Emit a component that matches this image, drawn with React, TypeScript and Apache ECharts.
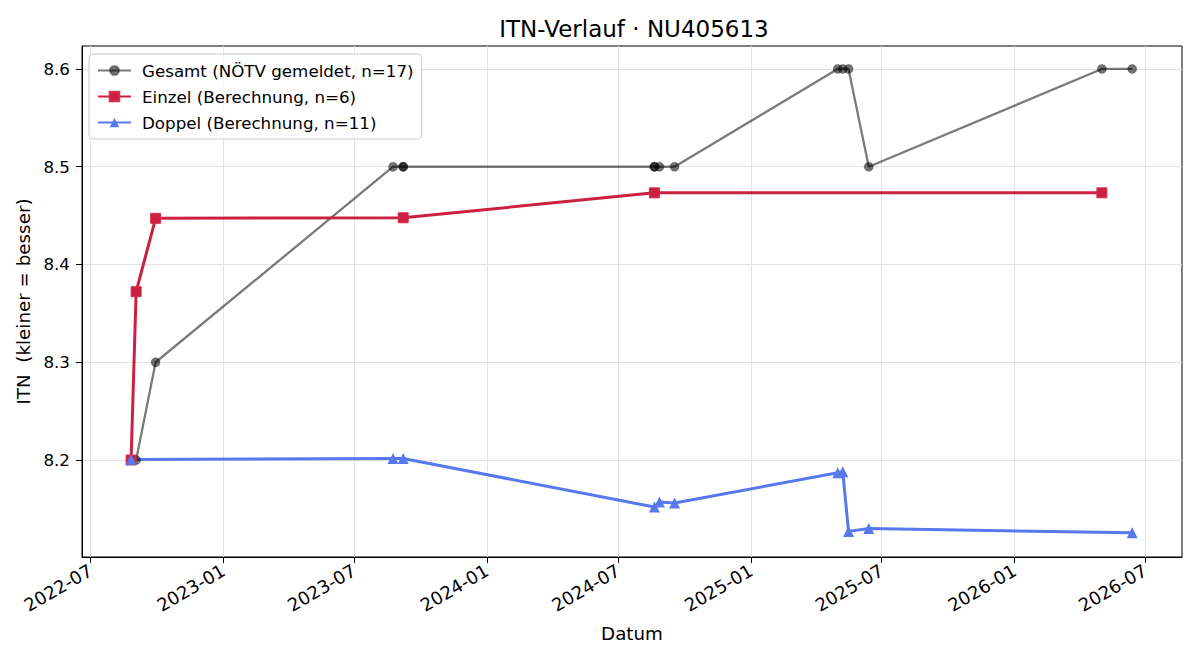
import React, { useEffect, useRef } from 'react';
import * as echarts from 'echarts';

// Overall ITN as reported by the federation
const gesamtDates = [
  '2022-08-26', '2022-08-26', '2022-09-02', '2022-09-29', '2023-08-24', '2023-09-07',
  '2023-09-07', '2024-08-20', '2024-08-20', '2024-08-27', '2024-09-17', '2025-05-01',
  '2025-05-08', '2025-05-16', '2025-06-13', '2026-05-02', '2026-06-13',
];
const gesamtValues = [
  8.2, 8.2, 8.2, 8.3, 8.5, 8.5,
  8.5, 8.5, 8.5, 8.5, 8.5, 8.6,
  8.6, 8.6, 8.5, 8.6, 8.6,
];

// Singles ITN (calculated)
const einzelDates = ['2022-08-26', '2022-09-02', '2022-09-29', '2023-09-07', '2024-08-20', '2026-05-02'];
const einzelValues = [8.2, 8.3722, 8.4472, 8.4478, 8.4733, 8.4733];

// Doubles ITN (calculated)
const doppelDates = [
  '2022-08-26', '2023-08-24', '2023-09-07', '2024-08-20', '2024-08-27', '2024-09-17',
  '2025-05-01', '2025-05-08', '2025-05-16', '2025-06-13', '2026-06-13',
];
const doppelValues = [8.2005, 8.2015, 8.2015, 8.152, 8.157, 8.156, 8.187, 8.188, 8.127, 8.13, 8.1255];

const xTickDates = [
  '2022-07-01', '2023-01-01', '2023-07-01', '2024-01-01', '2024-07-01',
  '2025-01-01', '2025-07-01', '2026-01-01', '2026-07-01',
];
const yTickValues = [8.2, 8.3, 8.4, 8.5, 8.6];

const xMinDate = '2022-06-19';
const xMaxDate = '2026-08-21';
const yMin = 8.1008;
const yMax = 8.6235;

const FONT = 'DejaVu Sans';

function toTime(s: string): number {
  const [y, m, d] = s.split('-').map(Number);
  return Date.UTC(y, m - 1, d);
}

function pairs(dates: string[], values: number[]) {
  return dates.map((d, i) => [toTime(d), values[i]]);
}

function pad2(n: number) {
  return n < 10 ? '0' + n : String(n);
}

export default function App() {
  const ref = useRef<HTMLDivElement>(null);

  useEffect(() => {
    if (!ref.current) return;
    const chart = echarts.init(ref.current, undefined, { renderer: 'svg' });
    const xTicks = xTickDates.map(toTime);

    const option: any = {
      animation: false,
      backgroundColor: '#ffffff',
      title: {
        text: 'ITN-Verlauf · NU405613',
        left: 629,
        top: 12,
        textAlign: 'center',
        textStyle: { fontFamily: FONT, fontSize: 23, fontWeight: 'normal', color: '#000' },
      },
      legend: {
        orient: 'vertical',
        left: 89,
        top: 54,
        padding: [8, 8, 8, 8],
        itemGap: 9,
        itemWidth: 33,
        itemHeight: 12,
        backgroundColor: 'rgba(255,255,255,0.8)',
        borderColor: '#cccccc',
        borderWidth: 1,
        borderRadius: 4,
        textStyle: { fontFamily: FONT, fontSize: 16.7, color: '#000', padding: [0, 0, 0, 6] },
        data: [
          'Gesamt (NÖTV gemeldet, n=17)',
          'Einzel (Berechnung, n=6)',
          'Doppel (Berechnung, n=11)',
        ],
      },
      grid: {
        left: 82,
        right: 18,
        top: 46,
        bottom: 103,
        show: true,
        borderColor: '#000',
        borderWidth: 1,
        backgroundColor: 'transparent',
      },
      xAxis: {
        type: 'value',
        min: toTime(xMinDate),
        max: toTime(xMaxDate),
        name: 'Datum',
        nameLocation: 'middle',
        nameGap: 67,
        nameTextStyle: { fontFamily: FONT, fontSize: 18.3, color: '#000' },
        axisLine: { show: true, onZero: false, lineStyle: { color: '#000', width: 1 } },
        axisTick: { show: true, length: 6, customValues: xTicks, lineStyle: { color: '#000', width: 1 } },
        axisLabel: {
          customValues: xTicks,
          rotate: 30,
          margin: 12,
          fontFamily: FONT,
          fontSize: 18,
          color: '#000',
          formatter: (v: number) => {
            const d = new Date(v);
            return d.getUTCFullYear() + '-' + pad2(d.getUTCMonth() + 1);
          },
        },
        splitLine: { show: true, lineStyle: { color: '#e3e3e3', width: 1 } },
      },
      yAxis: {
        type: 'value',
        min: yMin,
        max: yMax,
        name: 'ITN  (kleiner = besser)',
        nameLocation: 'middle',
        nameGap: 46,
        nameTextStyle: { fontFamily: FONT, fontSize: 18.3, color: '#000' },
        axisLine: { show: true, onZero: false, lineStyle: { color: '#000', width: 1 } },
        axisTick: { show: true, length: 6, customValues: yTickValues, lineStyle: { color: '#000', width: 1 } },
        axisLabel: {
          customValues: yTickValues,
          margin: 12,
          fontFamily: FONT,
          fontSize: 16.7,
          color: '#000',
          formatter: (v: number) => v.toFixed(1),
        },
        splitLine: { show: true, lineStyle: { color: '#e3e3e3', width: 1 } },
      },
      series: [
        {
          name: 'Gesamt (NÖTV gemeldet, n=17)',
          type: 'line',
          data: pairs(gesamtDates, gesamtValues),
          symbol: 'circle',
          symbolSize: 9,
          showAllSymbol: true,
          lineStyle: { color: 'rgba(0,0,0,0.52)', width: 2.3 },
          itemStyle: { color: 'rgba(0,0,0,0.55)', borderColor: 'rgba(0,0,0,0.25)', borderWidth: 1 },
        },
        {
          name: 'Einzel (Berechnung, n=6)',
          type: 'line',
          data: pairs(einzelDates, einzelValues),
          symbol: 'rect',
          symbolSize: 10,
          showAllSymbol: true,
          lineStyle: { color: '#cc2041', width: 3 },
          itemStyle: { color: '#cc2041', borderColor: '#d23050', borderWidth: 1 },
        },
        {
          name: 'Doppel (Berechnung, n=11)',
          type: 'line',
          data: pairs(doppelDates, doppelValues),
          symbol: 'triangle',
          symbolSize: 11,
          showAllSymbol: true,
          lineStyle: { color: '#5878ee', width: 3 },
          itemStyle: { color: '#5878ee' },
        },
      ],
    };

    chart.setOption(option);
    return () => {
      chart.dispose();
    };
  }, []);

  return (
    <div
      ref={ref}
      style={{ position: 'fixed', left: 0, top: 0, width: 1200, height: 660, background: '#fff' }}
    />
  );
}
